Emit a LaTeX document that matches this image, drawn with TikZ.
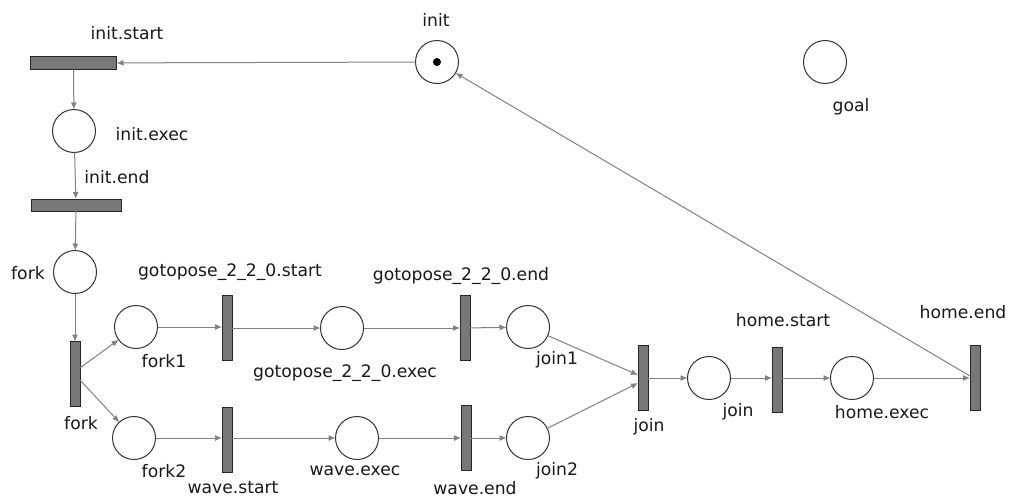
\documentclass[tikz,border=0pt]{standalone}
\usepackage{fontspec}
\setmainfont{DejaVu Sans}
\usetikzlibrary{arrows.meta}
\definecolor{arc}{RGB}{130,130,130}
\definecolor{barfill}{RGB}{120,120,120}
\tikzset{
  place/.style={circle,draw=black!80,line width=1pt,minimum size=43pt,inner sep=0pt,outer sep=0pt},
  hbar/.style={rectangle,draw=black!85,fill=barfill,line width=1pt,minimum width=87pt,minimum height=13pt,inner sep=0pt,outer sep=0pt},
  vbar/.style={rectangle,draw=black!85,fill=barfill,line width=1pt,minimum width=10pt,minimum height=65pt,inner sep=0pt,outer sep=0pt},
  lbl/.style={font=\fontsize{17.2}{20}\selectfont,text=black!90,inner sep=0pt},
  arc/.style={draw=arc,line width=1pt,-{Latex[length=7pt,width=6pt]}},
  token/.style={circle,fill=black,minimum size=8pt,inner sep=0pt}
}
\begin{document}
\begin{tikzpicture}[x=1pt,y=-1pt]
\useasboundingbox[fill=white] (0,0) rectangle (1014,498);
% places
\node[place] (init) at (437,62) {};
\node[token] (tok) at (437,62) {};
\node[place] (goal) at (825,62) {};
\node[place] (initexec) at (74,131) {};
\node[place] (forkP) at (75,272) {};
\node[place] (fork1) at (136,327) {};
\node[place] (fork2) at (134,438) {};
\node[place] (gexec) at (342,328) {};
\node[place] (wexec) at (357,438) {};
\node[place] (join1) at (528,327) {};
\node[place] (join2) at (528,438) {};
\node[place] (joinP) at (709,378) {};
\node[place] (hexec) at (852,378) {};
% transitions
\node[hbar,minimum width=86pt] (initstart) at (73.5,63) {};
\node[hbar,minimum width=90pt,minimum height=12pt] (initend) at (76,205) {};
\node[vbar] (forkT) at (75,374) {};
\node[vbar] (gstart) at (227,328) {};
\node[vbar] (gend) at (465,328) {};
\node[vbar] (wstart) at (227,440) {};
\node[vbar] (wend) at (466,438) {};
\node[vbar] (joinT) at (643,378) {};
\node[vbar] (hstart) at (777,380) {};
\node[vbar] (hend) at (975,378) {};
% labels
\node[lbl] (l1) at (127,33) {init.start};
\node[lbl] (l2) at (436,20) {init};
\node[lbl] (l3) at (152,134) {init.exec};
\node[lbl] (l4) at (117,177) {init.end};
\node[lbl] (l5) at (28,273) {fork};
\node[lbl] (l6) at (81,423) {fork};
\node[lbl] (l7) at (164,361) {fork1};
\node[lbl] (l8) at (164,471) {fork2};
\node[lbl] (l9) at (230,272) {gotopose\_2\_2\_0.start};
\node[lbl] (l10) at (345,373) {gotopose\_2\_2\_0.exec};
\node[lbl] (l11) at (461,276) {gotopose\_2\_2\_0.end};
\node[lbl] (l12) at (557,360) {join1};
\node[lbl] (l13) at (557,471) {join2};
\node[lbl] (l14) at (233,488) {wave.start};
\node[lbl] (l15) at (355,471) {wave.exec};
\node[lbl] (l16) at (475,488) {wave.end};
\node[lbl] (l17) at (649,427) {join};
\node[lbl] (l18) at (738,412) {join};
\node[lbl] (l19) at (783,320) {home.start};
\node[lbl] (l20) at (882,412) {home.exec};
\node[lbl] (l21) at (963,312) {home.end};
\node[lbl] (l22) at (851,107) {goal};
% arcs
\draw[arc] (init) -- (initstart);
\draw[arc] (initstart) -- (initexec);
\draw[arc] (initexec) -- (initend);
\draw[arc] (initend) -- (forkP);
\draw[arc] (forkP) -- (forkT);
\draw[arc] ([yshift=6pt]forkT.east) -- (fork1);
\draw[arc] ([yshift=-6pt]forkT.east) -- (fork2);
\draw[arc] (fork1) -- (gstart.west |- fork1);
\draw[arc] (gstart) -- (gexec);
\draw[arc] (gexec) -- (gend);
\draw[arc] (gend) -- (join1);
\draw[arc] (fork2) -- (wstart.west |- fork2);
\draw[arc] (wstart.east |- fork2) -- (wexec);
\draw[arc] (wexec) -- (wend);
\draw[arc] (wend) -- (join2);
\draw[arc] (join1) -- ([yshift=3pt]joinT.west);
\draw[arc] (join2) -- ([yshift=-5pt]joinT.west);
\draw[arc] (joinT) -- (joinP);
\draw[arc] (joinP) -- (hstart.west |- joinP);
\draw[arc] (hstart.east |- hexec) -- (hexec);
\draw[arc] (hexec) -- (hend.west |- hexec);
\draw[arc] ([yshift=2pt]hend.west) -- (init);
\end{tikzpicture}
\end{document}
